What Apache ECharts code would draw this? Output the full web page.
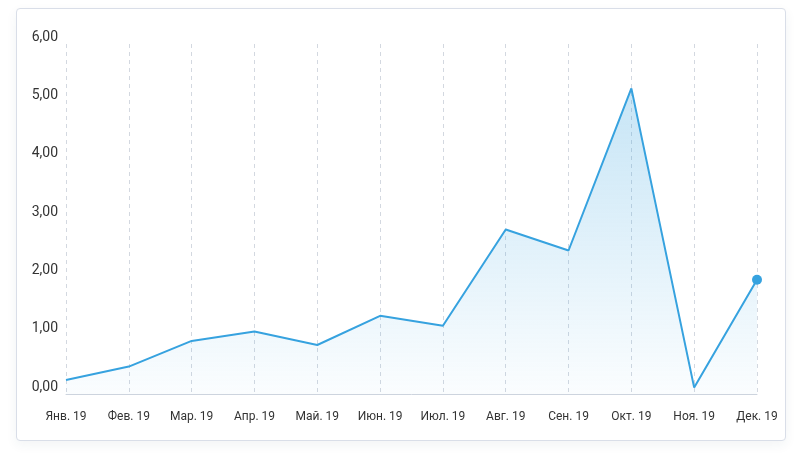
<!DOCTYPE html>
<html>
<head>
<meta charset="utf-8">
<script src="https://cdn.jsdelivr.net/npm/echarts@6/dist/echarts.min.js"></script>
<style>
    html, body { margin: 0; padding: 0; background: #fff; }
    .card {
        position: absolute;
        left: 16px; top: 8px;
        width: 768px; height: 431px;
        border: 1px solid #d9dee8;
        border-radius: 4px;
        background: #fff;
        box-shadow: 0 4px 12px rgba(40, 60, 90, 0.06);
    }
    #main { width: 768px; height: 431px; }
</style>
</head>
<body>
<div class="card"><div id="main"></div></div>
<script>
    // месяцы
    var months = ['Янв. 19', 'Фев. 19', 'Мар. 19', 'Апр. 19', 'Май. 19', 'Июн. 19',
        'Июл. 19', 'Авг. 19', 'Сен. 19', 'Окт. 19', 'Ноя. 19', 'Дек. 19'];
    // значения
    var values = [0.24, 0.47, 0.91, 1.07, 0.84, 1.34, 1.17, 2.82, 2.46, 5.24, 0.11, 1.96];
    var yMin = 0;
    var yMax = 6;
    var yStep = 1;

    var lineColor = '#36a2df';

    var seriesData = values.map(function (v, i) {
        if (i === values.length - 1) {
            return {value: v, symbol: 'circle', symbolSize: 10};
        }
        return v;
    });

    var myChart = echarts.init(document.getElementById('main'));

    var option = {
        animation: false,
        grid: {
            left: 49,
            right: 28,
            top: 35,
            bottom: 46
        },
        xAxis: {
            type: 'category',
            boundaryGap: false,
            data: months,
            axisLine: {lineStyle: {color: '#cdd4de', width: 1}},
            axisTick: {show: false},
            axisLabel: {
                color: '#333',
                fontFamily: 'Roboto',
                fontSize: 12,
                margin: 17,
                interval: 0
            },
            splitLine: {
                show: true,
                lineStyle: {color: '#d3d8e0', type: [4, 4], width: 1}
            }
        },
        yAxis: {
            type: 'value',
            min: yMin,
            max: yMax,
            interval: yStep,
            axisLine: {show: false},
            axisTick: {show: false},
            splitLine: {show: false},
            axisLabel: {
                color: '#333',
                fontFamily: 'Roboto',
                fontSize: 14,
                margin: 8,
                verticalAlign: 'bottom',
                formatter: function (v) {
                    return v.toFixed(2).replace('.', ',');
                }
            }
        },
        series: [{
            type: 'line',
            data: seriesData,
            symbol: 'none',
            lineStyle: {color: lineColor, width: 2},
            itemStyle: {color: lineColor},
            areaStyle: {
                color: new echarts.graphic.LinearGradient(0, 0, 0, 1, [
                    {offset: 0, color: 'rgba(54, 162, 223, 0.4)'},
                    {offset: 1, color: 'rgba(54, 162, 223, 0.03)'}
                ])
            }
        }]
    };

    myChart.setOption(option);
</script>
</body>
</html>
